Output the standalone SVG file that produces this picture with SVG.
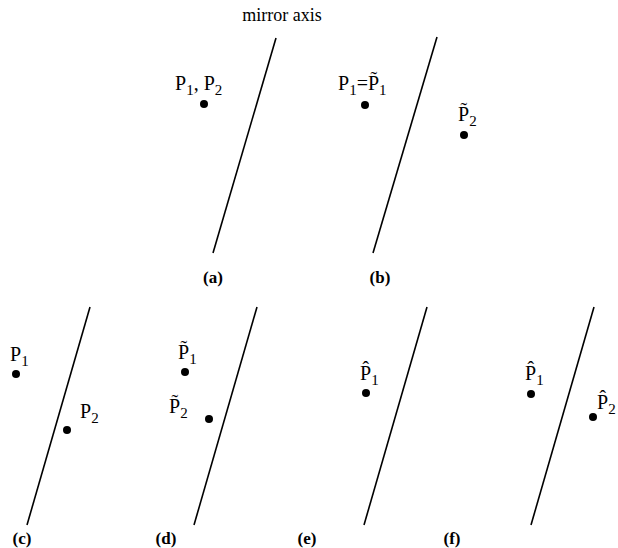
<svg xmlns="http://www.w3.org/2000/svg" width="618" height="548" viewBox="0 0 618 548">
<style>
.ax{stroke:#000;stroke-width:1.6;fill:none}
.pt{fill:#000}
.t{font-family:"Liberation Serif","Times New Roman",serif;font-size:20px;fill:#000}
.m{font-size:18px}
.s{font-size:15px}
.b{font-family:"Liberation Serif","Times New Roman",serif;font-size:17px;font-weight:bold;fill:#000;text-anchor:middle}
</style>
<defs>
<circle id="dot" r="4" class="pt"/>
</defs>
<g id="connectors">
<line class="ax" x1="276" y1="38" x2="213" y2="253"/>
<line class="ax" x1="437" y1="37" x2="373" y2="253"/>
<line class="ax" x1="90" y1="307" x2="27" y2="525"/>
<line class="ax" x1="257" y1="307" x2="194" y2="525"/>
<line class="ax" x1="427" y1="307" x2="364" y2="525"/>
<line class="ax" x1="594" y1="307" x2="531" y2="525"/>
</g>
<g id="a">
<text class="t m" x="282" y="21" text-anchor="middle">mirror axis</text>
<use href="#dot" x="204" y="104"/>
<text class="t" x="175" y="90">P<tspan class="s" dy="5">1</tspan><tspan dy="-5">, P</tspan><tspan class="s" dy="5">2</tspan></text>
<text class="b" x="213" y="283">(a)</text>
</g>
<g id="b">
<use href="#dot" x="365" y="105"/>
<text class="t" x="338" y="90">P<tspan class="s" dy="5">1</tspan><tspan dy="-5">=P̃</tspan><tspan class="s" dy="5">1</tspan></text>
<use href="#dot" x="464" y="135"/>
<text class="t" x="458" y="121">P̃<tspan class="s" dy="5">2</tspan></text>
<text class="b" x="380" y="283">(b)</text>
</g>
<g id="c">
<use href="#dot" x="16" y="374"/>
<text class="t" x="10" y="361">P<tspan class="s" dy="5">1</tspan></text>
<use href="#dot" x="67" y="430"/>
<text class="t" x="80" y="418">P<tspan class="s" dy="5">2</tspan></text>
<text class="b" x="22" y="544">(c)</text>
</g>
<g id="d">
<use href="#dot" x="185" y="372"/>
<text class="t" x="178" y="359">P̃<tspan class="s" dy="5">1</tspan></text>
<use href="#dot" x="209" y="419"/>
<text class="t" x="169" y="413">P̃<tspan class="s" dy="5">2</tspan></text>
<text class="b" x="166" y="544">(d)</text>
</g>
<g id="e">
<use href="#dot" x="366" y="393"/>
<text class="t" x="360" y="380">P̂<tspan class="s" dy="5">1</tspan></text>
<text class="b" x="307" y="544">(e)</text>
</g>
<g id="f">
<use href="#dot" x="531" y="394"/>
<text class="t" x="525" y="380">P̂<tspan class="s" dy="5">1</tspan></text>
<use href="#dot" x="593" y="417"/>
<text class="t" x="597" y="409">P̂<tspan class="s" dy="5">2</tspan></text>
<text class="b" x="452" y="544">(f)</text>
</g>
</svg>
